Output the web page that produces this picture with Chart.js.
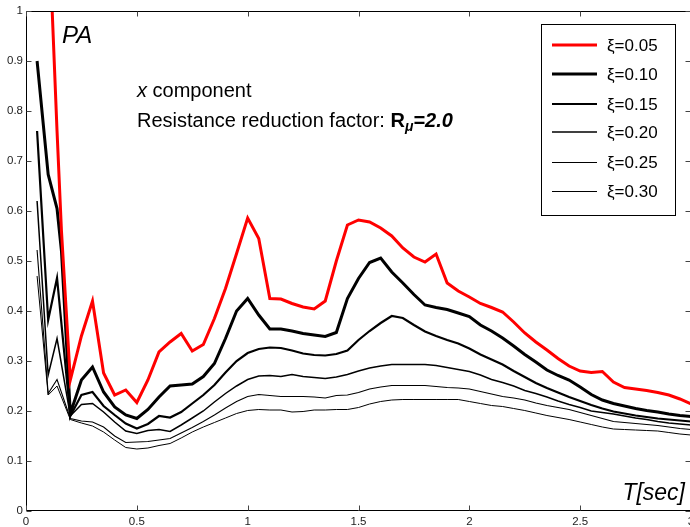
<!DOCTYPE html>
<html>
<head>
<meta charset="utf-8" />
<title>PA - x component</title>
<style>
  html, body { margin: 0; padding: 0; background: #fff; overflow: hidden; }
  #wrap { width: 694px; height: 527px; }
</style>
<script src="https://cdn.jsdelivr.net/npm/chart.js@4.4.1/dist/chart.umd.min.js"></script>
</head>
<body>
<div id="wrap"><canvas id="chart-area" width="694" height="527"></canvas></div>

<script>
// periods T [sec]; null = no reading for that curve at that period
var periods = [0.05, 0.10, 0.14, 0.16, 0.20,
  0.25, 0.30, 0.35, 0.40, 0.45, 0.50, 0.55, 0.60, 0.65, 0.70, 0.75, 0.80, 0.85, 0.90, 0.95, 1.00,
  1.05, 1.10, 1.15, 1.20, 1.25, 1.30, 1.35, 1.40, 1.45, 1.50,
  1.55, 1.60, 1.65, 1.70, 1.75, 1.80, 1.85, 1.90, 1.95, 2.00,
  2.05, 2.10, 2.15, 2.20, 2.25, 2.30, 2.35, 2.40, 2.45, 2.50,
  2.55, 2.60, 2.65, 2.70, 2.75, 2.80, 2.85, 2.90, 2.95, 3.00];

var xi005 = [1.60, 1.20, 0.76, 0.56, 0.262,
  0.35, 0.42, 0.276, 0.232, 0.242, 0.217, 0.262, 0.318, 0.338, 0.355, 0.32, 0.333, 0.385, 0.445, 0.515, 0.586,
  0.545, 0.425, 0.424, 0.415, 0.408, 0.404, 0.42, 0.50, 0.572, 0.582,
  0.578, 0.566, 0.55, 0.526, 0.508, 0.498, 0.514, 0.456, 0.44, 0.428,
  0.415, 0.407, 0.398, 0.378, 0.356, 0.338, 0.322, 0.305, 0.29, 0.28,
  0.277, 0.279, 0.258, 0.247, 0.244, 0.241, 0.237, 0.232, 0.224, 0.214];

var xi010 = [0.90, 0.673, 0.605, 0.52, 0.195,
  0.262, 0.288, 0.238, 0.208, 0.192, 0.185, 0.203, 0.228, 0.25, 0.252, 0.254, 0.269, 0.295, 0.345, 0.40, 0.425,
  0.392, 0.364, 0.364, 0.36, 0.355, 0.352, 0.349, 0.357, 0.425, 0.465,
  0.497, 0.506, 0.478, 0.456, 0.433, 0.412, 0.407, 0.403, 0.396, 0.389,
  0.372, 0.36, 0.346, 0.33, 0.313, 0.298, 0.282, 0.271, 0.262, 0.248,
  0.233, 0.222, 0.215, 0.21, 0.205, 0.201, 0.198, 0.194, 0.191, 0.189];

var xi015 = [0.76, 0.382, 0.466, null, 0.19,
  0.232, 0.238, 0.21, 0.192, 0.175, 0.165, 0.174, 0.19, 0.187, 0.198, 0.215, 0.232, 0.252, 0.277, 0.30, 0.316,
  0.324, 0.327, 0.326, 0.321, 0.315, 0.312, 0.311, 0.314, 0.321, 0.342,
  0.36, 0.376, 0.39, 0.386, 0.372, 0.359, 0.35, 0.342, 0.335, 0.325,
  0.313, 0.303, 0.293, 0.28, 0.268, 0.256, 0.246, 0.237, 0.228, 0.22,
  0.212, 0.205, 0.199, 0.195, 0.191, 0.188, 0.185, 0.183, 0.181, 0.179];

var xi020 = [0.62, 0.272, 0.345, null, 0.19,
  0.213, 0.215, 0.198, 0.178, 0.16, 0.155, 0.161, 0.163, 0.159, 0.172, 0.186, 0.20, 0.218, 0.235, 0.25, 0.263,
  0.27, 0.271, 0.269, 0.273, 0.269, 0.267, 0.265, 0.268, 0.273, 0.28,
  0.286, 0.29, 0.293, 0.293, 0.293, 0.293, 0.291, 0.287, 0.283, 0.279,
  0.272, 0.263, 0.257, 0.25, 0.241, 0.235, 0.228, 0.22, 0.213, 0.207,
  0.20, 0.197, 0.194, 0.19, 0.186, 0.183, 0.179, 0.176, 0.174, 0.172];

var xi025 = [0.522, 0.235, 0.263, null, 0.185,
  0.18, 0.178, 0.168, 0.15, 0.137, 0.138, 0.139, 0.142, 0.145, 0.156, 0.167, 0.179, 0.192, 0.206, 0.219, 0.229,
  0.233, 0.231, 0.229, 0.229, 0.229, 0.228, 0.226, 0.231, 0.232, 0.237,
  0.244, 0.248, 0.251, 0.251, 0.251, 0.251, 0.249, 0.247, 0.246, 0.244,
  0.239, 0.234, 0.229, 0.226, 0.222, 0.216, 0.211, 0.207, 0.203, 0.197,
  0.191, 0.185, 0.179, 0.177, 0.175, 0.173, 0.171, 0.168, 0.165, 0.163];

var xi030 = [0.47, 0.232, 0.25, null, 0.183,
  0.176, 0.17, 0.158, 0.142, 0.127, 0.124, 0.126, 0.131, 0.135, 0.146, 0.158, 0.168, 0.177, 0.186, 0.195, 0.201,
  0.203, 0.202, 0.202, 0.198, 0.199, 0.202, 0.202, 0.203, 0.203, 0.207,
  0.214, 0.219, 0.222, 0.223, 0.223, 0.223, 0.223, 0.223, 0.223, 0.219,
  0.215, 0.211, 0.209, 0.205, 0.201, 0.196, 0.191, 0.187, 0.183, 0.178,
  0.173, 0.168, 0.164, 0.163, 0.162, 0.161, 0.16, 0.157, 0.154, 0.152];

var seriesNames = ['\u03BE=0.05', '\u03BE=0.10', '\u03BE=0.15', '\u03BE=0.20', '\u03BE=0.25', '\u03BE=0.30'];

var xTickValues = [0, 0.5, 1, 1.5, 2, 2.5, 3];
var xTickLabels = ['0', '0.5', '1', '1.5', '2', '2.5', '3'];
var yTickValues = [0, 0.1, 0.2, 0.3, 0.4, 0.5, 0.6, 0.7, 0.8, 0.9, 1];
var yTickLabels = ['0', '0.1', '0.2', '0.3', '0.4', '0.5', '0.6', '0.7', '0.8', '0.9', '1'];
</script>

<script>
var FONT = "'Liberation Sans', Arial, Helvetica, sans-serif";

function toPoints(values) {
    return periods.map(function(t, i) { return { x: t, y: values[i] }; });
}

var styles = [
    { color: '#ff0000', width: 3 },
    { color: '#000000', width: 3 },
    { color: '#000000', width: 2.2 },
    { color: '#000000', width: 1.5 },
    { color: '#000000', width: 1.1 },
    { color: '#000000', width: 1 }
];
var allSeries = [xi005, xi010, xi015, xi020, xi025, xi030];

var datasets = allSeries.map(function(vals, i) {
    return {
        label: seriesNames[i],
        data: toPoints(vals),
        borderColor: styles[i].color,
        borderWidth: styles[i].width,
        pointRadius: 0,
        fill: false,
        spanGaps: true,
        tension: 0
    };
});

// box, inside ticks, text and legend
var framePlugin = {
    id: 'frame',
    afterDatasetsDraw: function(chart) {
        var ctx = chart.ctx;
        var a = chart.chartArea;
        var xs = chart.scales.x, ys = chart.scales.y;
        var L = a.left + 0.5, R = a.right - 0.5, T = a.top + 0.5, B = a.bottom - 0.5;
        ctx.save();

        ctx.strokeStyle = '#000';
        ctx.lineWidth = 1;
        ctx.beginPath();
        ctx.rect(L, T, R - L, B - T);
        ctx.stroke();

        ctx.strokeStyle = '#444';
        ctx.beginPath();
        xTickValues.forEach(function(v) {
            var px = Math.round(xs.getPixelForValue(v)) + 0.5;
            ctx.moveTo(px, B); ctx.lineTo(px, B - 5);
            ctx.moveTo(px, T); ctx.lineTo(px, T + 5);
        });
        yTickValues.forEach(function(v) {
            var py = Math.round(ys.getPixelForValue(v)) + 0.5;
            ctx.moveTo(L, py); ctx.lineTo(L + 5, py);
            ctx.moveTo(R, py); ctx.lineTo(R - 5, py);
        });
        ctx.stroke();

        ctx.fillStyle = '#000';
        ctx.textBaseline = 'alphabetic';
        ctx.textAlign = 'left';

        ctx.font = 'italic 24px ' + FONT;
        ctx.fillText('PA', a.left + 36, 43);

        // annotation
        var x0 = a.left + 111;
        ctx.font = 'italic 20px ' + FONT;
        ctx.fillText('x', x0, 97);
        var w = ctx.measureText('x').width;
        ctx.font = '20px ' + FONT;
        ctx.fillText(' component', x0 + w, 97);

        ctx.font = '20px ' + FONT;
        var s1 = 'Resistance reduction factor: ';
        ctx.fillText(s1, x0, 127);
        var cx = x0 + ctx.measureText(s1).width;
        ctx.font = 'bold 20px ' + FONT;
        ctx.fillText('R', cx, 127);
        cx += ctx.measureText('R').width;
        ctx.font = 'italic bold 14px ' + FONT;
        ctx.fillText('\u03BC', cx, 131);
        cx += ctx.measureText('\u03BC').width;
        ctx.font = 'italic bold 20px ' + FONT;
        ctx.fillText('=2.0', cx, 127);

        ctx.font = 'italic 23px ' + FONT;
        ctx.textAlign = 'right';
        ctx.fillText('T[sec]', 685, 500);

        // legend
        var lx = 541.5, ly = 24.5, lw = 134, lh = 191;
        ctx.fillStyle = '#fff';
        ctx.fillRect(lx, ly, lw, lh);
        ctx.strokeStyle = '#000';
        ctx.lineWidth = 1;
        ctx.strokeRect(lx, ly, lw, lh);
        var rowY = [45, 74, 104, 132, 162, 191];
        ctx.textAlign = 'left';
        ctx.textBaseline = 'middle';
        ctx.font = '17px ' + FONT;
        chart.data.datasets.forEach(function(ds, i) {
            var ly2 = rowY[i] + (ds.borderWidth < 1.3 ? 0.5 : 0);
            ctx.strokeStyle = ds.borderColor;
            ctx.lineWidth = ds.borderWidth < 1.3 ? 1 : ds.borderWidth;
            ctx.beginPath();
            ctx.moveTo(552, ly2);
            ctx.lineTo(597, ly2);
            ctx.stroke();
            ctx.fillStyle = '#000';
            ctx.fillText(ds.label, 607, rowY[i] + 1);
        });

        ctx.restore();
    }
};

var config = {
    type: 'line',
    data: { datasets: datasets },
    options: {
        responsive: false,
        animation: false,
        events: [],
        layout: { padding: { top: 11, right: 3, left: 0, bottom: 0 } },
        plugins: { legend: { display: false }, tooltip: { enabled: false } },
        scales: {
            x: {
                type: 'linear',
                min: 0,
                max: 3,
                grid: { display: false, drawTicks: false },
                border: { display: false },
                afterBuildTicks: function(scale) {
                    scale.ticks = xTickValues.map(function(v) { return { value: v }; });
                },
                afterFit: function(scale) {
                    scale.height = 16;
                    scale.paddingLeft = 0;
                    scale.paddingRight = 0;
                },
                ticks: {
                    padding: 4,
                    maxRotation: 0,
                    autoSkip: false,
                    color: '#222',
                    font: { family: FONT, size: 11.5 },
                    callback: function(value, index) { return xTickLabels[index]; }
                }
            },
            y: {
                min: 0,
                max: 1,
                grid: { display: false, drawTicks: false },
                border: { display: false },
                afterBuildTicks: function(scale) {
                    scale.ticks = yTickValues.map(function(v) { return { value: v }; });
                },
                afterFit: function(scale) {
                    scale.width = 26;
                    scale.paddingTop = 0;
                    scale.paddingBottom = 0;
                },
                ticks: {
                    padding: 3,
                    autoSkip: false,
                    color: '#222',
                    font: { family: FONT, size: 11.5 },
                    callback: function(value, index) { return yTickLabels[index]; }
                }
            }
        }
    },
    plugins: [framePlugin]
};

var ctx = document.getElementById('chart-area').getContext('2d');
window.myChart = new Chart(ctx, config);
</script>
</body>
</html>
